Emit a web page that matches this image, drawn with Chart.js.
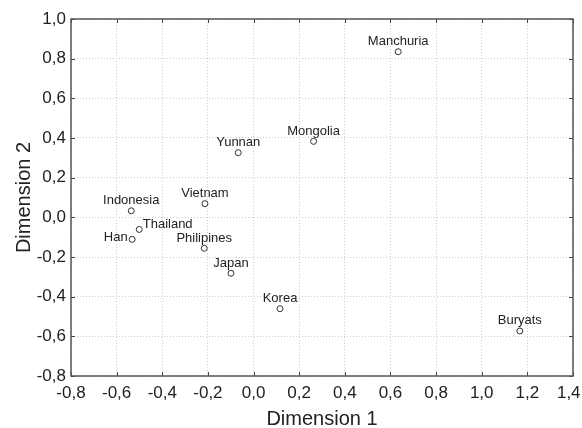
<!DOCTYPE html>
<html>
<head>
<meta charset="utf-8">
<script src="https://cdn.jsdelivr.net/npm/chart.js@4"></script>
<style>
  body { margin: 0; background: #fff; }
  #wrap { width: 582px; height: 428px; }
</style>
</head>
<body>
<div id="wrap"><canvas id="myChart" width="582" height="428"></canvas></div>
<script>
const names = ['Manchuria', 'Mongolia', 'Yunnan', 'Vietnam', 'Indonesia', 'Thailand', 'Han', 'Philipines', 'Japan', 'Korea', 'Buryats'];
const dim1 = [0.634, 0.263, -0.067, -0.213, -0.536, -0.501, -0.532, -0.216, -0.099, 0.116, 1.167];
const dim2 = [0.835, 0.383, 0.326, 0.069, 0.033, -0.061, -0.111, -0.156, -0.282, -0.461, -0.573];

// where each name sits relative to its point (default: above)
const labelSide = { Thailand: 'right', Han: 'left' };

const fontFamily = '"Liberation Sans", Arial, Helvetica, sans-serif';

const fmt = (v) => {
  if (Math.abs(v) < 1e-9) return '0,0';
  return Number(v).toFixed(1).replace('.', ',');
};

const pointLabels = {
  id: 'pointLabels',
  afterDatasetsDraw(chart) {
    const { ctx } = chart;
    const meta = chart.getDatasetMeta(0);
    ctx.save();
    ctx.font = '13px ' + fontFamily;
    ctx.fillStyle = '#222';
    ctx.textBaseline = 'alphabetic';
    meta.data.forEach((pt, i) => {
      const name = names[i];
      const side = labelSide[name] || 'top';
      if (side === 'right') {
        ctx.textAlign = 'left';
        ctx.fillText(name, pt.x + 3.5, pt.y - 1.5);
      } else if (side === 'left') {
        ctx.textAlign = 'right';
        ctx.fillText(name, pt.x - 4.5, pt.y + 2);
      } else {
        ctx.textAlign = 'center';
        ctx.fillText(name, pt.x, pt.y - 6.5);
      }
    });
    ctx.restore();
  },
};

// box frame with short tick marks pointing inward on all four sides
const frame = {
  id: 'frame',
  afterDraw(chart) {
    const { ctx, chartArea: a, scales } = chart;
    const len = 4;
    ctx.save();
    ctx.strokeStyle = '#444';
    ctx.lineWidth = 1;
    ctx.beginPath();
    scales.x.ticks.forEach((t) => {
      const px = Math.round(scales.x.getPixelForValue(t.value)) + 0.5;
      ctx.moveTo(px, a.bottom); ctx.lineTo(px, a.bottom - len);
      ctx.moveTo(px, a.top); ctx.lineTo(px, a.top + len);
    });
    scales.y.ticks.forEach((t) => {
      const py = Math.round(scales.y.getPixelForValue(t.value)) + 0.5;
      ctx.moveTo(a.left, py); ctx.lineTo(a.left + len, py);
      ctx.moveTo(a.right, py); ctx.lineTo(a.right - len, py);
    });
    ctx.stroke();
    ctx.lineWidth = 1.5;
    ctx.strokeStyle = '#555';
    ctx.strokeRect(a.left, a.top, a.right - a.left, a.bottom - a.top);
    ctx.restore();
  },
};

const ctx = document.getElementById('myChart').getContext('2d');
const myChart = new Chart(ctx, {
  type: 'scatter',
  data: {
    datasets: [{
      label: 'Populations',
      data: dim1.map((x, i) => ({ x, y: dim2[i] })),
      pointRadius: 3,
      pointHoverRadius: 3,
      pointBorderWidth: 1,
      pointBorderColor: '#333',
      pointBackgroundColor: '#fff',
    }],
  },
  options: {
    responsive: false,
    animation: false,
    layout: { padding: { top: 19, right: 9, left: 0, bottom: 0 } },
    plugins: {
      legend: { display: false },
      tooltip: { enabled: false },
    },
    scales: {
      x: {
        type: 'linear',
        min: -0.8,
        max: 1.4,
        ticks: {
          stepSize: 0.2,
          padding: 7,
          color: '#222',
          font: { family: fontFamily, size: 17 },
          // last label nudged left so it stays inside the canvas
          callback: (v, i, ticks) => (i === ticks.length - 1 ? fmt(v) + '\u2002' : fmt(v)),
          maxRotation: 0,
        },
        grid: { color: '#cccccc', lineWidth: 1, drawTicks: false },
        border: { display: false, dash: [1, 2] },
        title: {
          display: true,
          text: 'Dimension 1',
          color: '#222',
          font: { family: fontFamily, size: 20, lineHeight: 1 },
          padding: { top: 0, bottom: -1 },
        },
        afterFit: (scale) => {
          scale.height = 52;
          scale.paddingLeft = 0;
          scale.paddingRight = 0;
        },
      },
      y: {
        type: 'linear',
        min: -0.8,
        max: 1.0,
        ticks: {
          stepSize: 0.2,
          padding: 5,
          color: '#222',
          font: { family: fontFamily, size: 17 },
          callback: (v) => fmt(v),
        },
        grid: { color: '#cccccc', lineWidth: 1, drawTicks: false },
        border: { display: false, dash: [1, 2] },
        title: {
          display: true,
          text: 'Dimension 2',
          color: '#222',
          font: { family: fontFamily, size: 20, lineHeight: 1 },
          padding: { top: 14, bottom: 0 },
        },
        afterFit: (scale) => {
          scale.width = 71;
          scale.paddingTop = 0;
          scale.paddingBottom = 0;
        },
      },
    },
  },
  plugins: [pointLabels, frame],
});
</script>
</body>
</html>
